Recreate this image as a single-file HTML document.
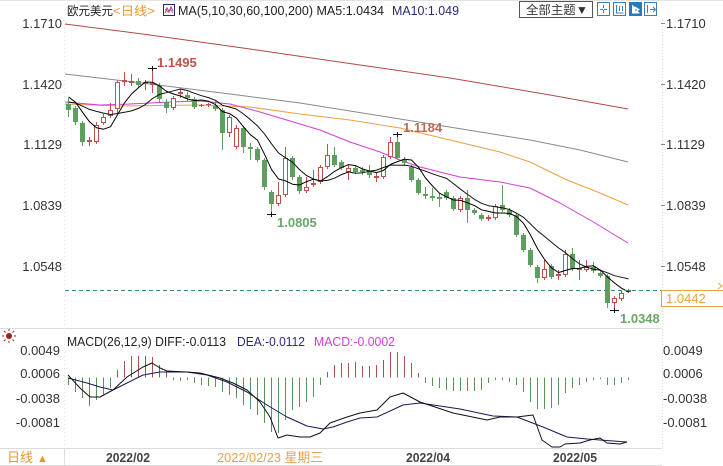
<!DOCTYPE html>
<html><head><meta charset="utf-8">
<style>
html,body{margin:0;padding:0;background:#fff;}
body{width:723px;height:466px;overflow:hidden;position:relative;font-family:"Liberation Sans","Noto Sans CJK SC",sans-serif;}
svg{position:absolute;left:0;top:0;}
</style></head><body>
<svg id="c" width="723" height="466" viewBox="0 0 723 466" xmlns="http://www.w3.org/2000/svg" font-family="Liberation Sans, Noto Sans CJK SC, sans-serif">
<rect x="0" y="0" width="723" height="466" fill="#fff"/>
<!-- frame lines -->
<line x1="0" y1="0.5" x2="723" y2="0.5" stroke="#e4e4e4"/>
<line x1="0" y1="328.5" x2="662" y2="328.5" stroke="#dcdcdc"/>
<line x1="0" y1="448.5" x2="662" y2="448.5" stroke="#dcdcdc"/>
<line x1="0" y1="465.5" x2="662" y2="465.5" stroke="#dcdcdc"/>
<line x1="64.5" y1="20" x2="64.5" y2="448" stroke="#e6e6e6" stroke-dasharray="1,3"/>
<line x1="64.5" y1="449" x2="64.5" y2="466" stroke="#dcdcdc"/>
<line x1="662.5" y1="20" x2="662.5" y2="448" stroke="#d8d8d8" stroke-dasharray="1,2"/>

<!-- title -->
<text x="67" y="15" font-size="12" fill="#222" textLength="46" lengthAdjust="spacingAndGlyphs">欧元美元</text>
<text x="113" y="15" font-size="12" fill="#e8962e" textLength="42" lengthAdjust="spacingAndGlyphs">&lt;日线&gt;</text>
<rect x="163.5" y="4.5" width="11" height="11" fill="#fff" stroke="#2a2a70"/>
<polyline points="165,13 167,8 169,12 171,7 173,11" fill="none" stroke="#a040a0" stroke-width="1"/>
<polyline points="165,9 168,12 170,9 173,13" fill="none" stroke="#c05050" stroke-width="0.8"/>
<text x="178" y="15" font-size="12.5" fill="#222" textLength="206" lengthAdjust="spacingAndGlyphs">MA(5,10,30,60,100,200) MA5:1.0434</text>
<text x="392" y="15" font-size="12.5" fill="#2a2a7a" textLength="67" lengthAdjust="spacingAndGlyphs">MA10:1.049</text>

<!-- top right buttons -->
<rect x="519.5" y="1.5" width="73" height="16" fill="#fff" stroke="#555"/>
<text x="526" y="14" font-size="12" fill="#333" textLength="62" lengthAdjust="spacingAndGlyphs">全部主题▼</text>
<rect x="597.5" y="2.5" width="12" height="13" fill="#fff" stroke="#3a80c0"/>
<path d="M603.5 5v3M603.5 10v3M600 9.5h3M604 9.5h3" stroke="#3a80c0"/>
<rect x="613.5" y="2.5" width="12" height="13" fill="#fff" stroke="#3a80c0"/>
<path d="M616.5 5v8h7M619.5 6v5M622.5 6v5" stroke="#3a80c0" fill="none"/>
<rect x="629.5" y="2.5" width="12" height="13" fill="#2a7ab8" stroke="#2a7ab8"/>
<path d="M632.5 5v8h7M635 7l4 2.5-4 2.5z" stroke="#fff" fill="#fff"/>
<rect x="644.5" y="2.5" width="12" height="13" fill="#fff" stroke="#3a80c0"/>
<path d="M647.5 5v8M650 9.5h5M653 7l2.5 2.5-2.5 2.5" stroke="#3a80c0" fill="none"/>

<!-- left axis labels main -->
<g font-size="13" fill="#333" text-anchor="end">
<text x="62" y="28">1.1710</text>
<text x="62" y="89">1.1420</text>
<text x="62" y="149">1.1129</text>
<text x="62" y="210">1.0839</text>
<text x="62" y="271">1.0548</text>
</g>
<g font-size="13" fill="#333">
<text x="666" y="28">1.1710</text>
<text x="666" y="89">1.1420</text>
<text x="666" y="149">1.1129</text>
<text x="666" y="210">1.0839</text>
<text x="666" y="271">1.0548</text>
</g>
<g stroke="#888">
<line x1="661" y1="23.5" x2="665" y2="23.5"/>
<line x1="661" y1="84.5" x2="665" y2="84.5"/>
<line x1="661" y1="144.5" x2="665" y2="144.5"/>
<line x1="661" y1="205.5" x2="665" y2="205.5"/>
<line x1="661" y1="266.5" x2="665" y2="266.5"/>
</g>

<!-- MACD axis labels -->
<g font-size="13" fill="#333" text-anchor="end">
<text x="60" y="355">0.0049</text>
<text x="60" y="378">0.0006</text>
<text x="60" y="403">-0.0038</text>
<text x="60" y="427">-0.0081</text>
</g>
<g font-size="13" fill="#333">
<text x="663" y="355">0.0049</text>
<text x="663" y="378">0.0006</text>
<text x="663" y="403">-0.0038</text>
<text x="663" y="427">-0.0081</text>
</g>

<!-- MACD title -->
<circle cx="9" cy="336" r="3" fill="#a02020"/>
<g stroke="#a02020" stroke-width="1">
<line x1="9" y1="329" x2="9" y2="331"/><line x1="9" y1="341" x2="9" y2="343"/>
<line x1="2" y1="336" x2="4" y2="336"/><line x1="14" y1="336" x2="16" y2="336"/>
<line x1="4" y1="331" x2="5.5" y2="332.5"/><line x1="12.5" y1="339.5" x2="14" y2="341"/>
<line x1="14" y1="331" x2="12.5" y2="332.5"/><line x1="4" y1="341" x2="5.5" y2="339.5"/>
</g>
<text x="67" y="346" font-size="12.5" fill="#222" textLength="159" lengthAdjust="spacingAndGlyphs">MACD(26,12,9) DIFF:-0.0113</text>
<text x="237" y="346" font-size="12.5" fill="#2a2a7a" textLength="68" lengthAdjust="spacingAndGlyphs">DEA:-0.0112</text>
<text x="314" y="346" font-size="12.5" fill="#d040d0" textLength="81" lengthAdjust="spacingAndGlyphs">MACD:-0.0002</text>

<!-- bottom axis -->
<text x="7" y="462" font-size="13" fill="#e8962e" textLength="26" lengthAdjust="spacingAndGlyphs">日线</text>
<text x="37" y="462" font-size="11" fill="#e8962e">▲</text>
<text x="106" y="462" font-size="13" font-weight="bold" fill="#444" textLength="44" lengthAdjust="spacingAndGlyphs">2022/02</text>
<text x="217" y="462" font-size="13" fill="#e8a050" textLength="106" lengthAdjust="spacingAndGlyphs">2022/02/23 星期三</text>
<text x="406" y="462" font-size="13" font-weight="bold" fill="#444" textLength="44" lengthAdjust="spacingAndGlyphs">2022/04</text>
<text x="553" y="462" font-size="13" font-weight="bold" fill="#444" textLength="44" lengthAdjust="spacingAndGlyphs">2022/05</text>

<g id="dyn"></g>

<!-- current price -->
<line x1="65" y1="290.5" x2="661" y2="290.5" stroke="#3a8a9a" stroke-dasharray="4,3"/>
<rect x="661.5" y="290.5" width="62" height="16" fill="#fff" stroke="#e8a040"/>
<text x="666" y="303" font-size="13" fill="#e8a040">1.0442</text>
<path d="M718 283l4 3-4 3" stroke="#e8a040" fill="none"/>

<!-- annotations -->
<g font-size="13" font-weight="bold">
<text x="157" y="67" fill="#c0504d">1.1495</text>
<text x="403" y="132" fill="#b86a5a">1.1184</text>
<text x="277" y="227" fill="#6aa56a">1.0805</text>
<text x="620" y="323" fill="#6aa56a">1.0348</text>
</g>
</svg>
<script>
(function(){
var NS='http://www.w3.org/2000/svg';
var g=document.getElementById('dyn');
function el(t,a){var e=document.createElementNS(NS,t);for(var k in a)e.setAttribute(k,a[k]);g.appendChild(e);return e;}
function poly(pts,color,w){el('polyline',{points:pts.map(function(p){return p[0]+','+p[1];}).join(' '),fill:'none',stroke:color,'stroke-width':w||1,'stroke-linejoin':'round'});}
// long MAs
poly([[65,24],[150,35],[250,49],[360,65],[450,78],[550,95],[628,109]],'#b04a48');
poly([[65,74],[150,84],[230,94],[300,103],[400,119],[530,140],[580,150],[628,162]],'#8a8a8a');
poly([[65,104],[120,106],[200,105],[250,107],[300,114],[350,120],[400,128],[450,140],[500,152],[530,162],[567,180],[600,193],[628,205]],'#f0a040');
poly([[65,102],[100,105],[130,104],[170,102],[200,101],[230,104],[260,112],[290,121],[320,130],[350,142],[380,152],[400,160],[420,167],[460,177],[500,182],[530,188],[560,203],[590,220],[628,243]],'#d040d0');
var C=[
['g',104,110,98,117],['g',108,122,106,125],['g',123,142,121,146],['r',140,142,137,146],['r',125,142,122,144],
['r',117,123,114,125],['r',110,116,103,118],['r',82,109,80,113],['r',80,82,72,86],['r',81,83,74,86],
['g',81,85,78,87],['r',82,84,80,90],['r',83,85,68,93],['g',85,99,83,102],['g',102,108,99,113],
['r',98,108,96,110],['r',92,94,89,98],['g',95,98,92,101],['g',99,107,97,109],['r',105,106,104,107],
['r',104,105,103,107],['g',106,109,101,111],['g',110,133,108,150],['r',117,133,115,137],['r',128,147,125,149],
['g',128,147,126,153],['g',147,149,143,160],['g',149,160,147,162],['g',160,187,158,190],['g',192,204,190,214],
['r',195,204,182,206],['r',158,195,147,197],['g',158,177,156,180],['g',177,191,175,194],['r',187,191,177,193],
['r',183,185,170,187],['r',167,182,165,184],['r',155,167,144,169],['g',155,165,147,167],['g',162,168,160,170],
['r',168,172,165,180],['g',168,172,166,174],['g',170,172,167,175],['g',172,175,165,178],['r',176,178,173,182],
['r',157,177,155,179],['r',142,157,137,159],['g',142,158,134,160],['g',159,163,157,165],['g',167,180,165,182],
['g',180,193,178,195],['g',194,196,187,199],['g',196,198,188,201],['g',197,199,193,207],['g',192,198,190,200],
['g',198,209,196,211],['r',198,210,196,212],['g',198,210,190,223],['g',210,213,208,215],['g',215,219,213,221],
['r',217,219,215,221],['r',206,218,204,220],['g',205,210,185,212],['g',210,215,208,217],['g',215,235,213,237],
['g',235,250,233,252],['g',250,265,248,267],['g',267,278,265,283],['r',269,278,260,280],['g',266,277,264,279],
['r',274,276,270,280],['r',254,275,250,277],['g',254,269,248,271],['r',268,270,260,280],['r',267,270,260,272],
['g',267,271,262,273],['g',273,276,270,278],['g',276,303,274,308],['r',298,303,296,310],['r',293,299,291,301],
['r',290,292,289,293]];
var RED='#c0504d',GRN='#5e9e5e';
for(var i=0;i<C.length;i++){
 var c=C[i],cx=68+i*7,t=c[1],b=c[2],h=c[3],l=c[4];
 var col=c[0]=='r'?RED:GRN;
 if(b-t<1)b=t+1;
 el('line',{x1:cx+0.5,y1:h,x2:cx+0.5,y2:t,stroke:col});
 el('line',{x1:cx+0.5,y1:b,x2:cx+0.5,y2:l,stroke:col});
 if(c[0]=='r'){
  if(b-t<=2) el('rect',{x:cx-2,y:t,width:5,height:Math.max(1,b-t),fill:col});
  else el('rect',{x:cx-1.5,y:t+0.5,width:4,height:b-t-1,fill:'#fff',stroke:col});
 } else el('rect',{x:cx-2,y:t,width:5,height:b-t,fill:col});
}
// cross markers
[[152,68],[397,134],[271,214],[614,310]].forEach(function(p){el('line',{x1:p[0]-4,y1:p[1]+0.5,x2:p[0]+5,y2:p[1]+0.5,stroke:'#111'});el('line',{x1:p[0]+0.5,y1:p[1]-2,x2:p[0]+0.5,y2:p[1]+3,stroke:'#111'});});
// MA5 / MA10
var pre=[112,110,108,105,100,96,92,92,95];
var cl=pre.slice();
C.forEach(function(c){cl.push(c[0]=='r'?c[1]:c[2]);});
function ma(n){var pts=[];for(var i=0;i<C.length;i++){var k=i+pre.length,s=0;for(var j=0;j<n;j++)s+=cl[k-j];pts.push([68.5+i*7,(s/n).toFixed(1)]);}return pts;}
poly(ma(10),'#111',1);
poly(ma(5),'#000',1);
// MACD bars
var M=[385,392,398,406,400,395,388,370,361,356,356,356,357,365,372,380,381,380,383,385,386,387,392,395,398,405,409,415,423,432,433,420,410,407,402,397,385,372,365,363,363,362,366,366,365,360,352,352,356,363,373,383,386,388,390,391,391,391,391,390,383,380,380,382,385,392,402,409,409,408,405,393,388,385,382,380,379,385,385,383,380];
var Z=377.5;
for(var i=0;i<M.length;i++){var cx=68+i*7+0.5,v=M[i];var col=v<Z?'#a85050':'#5a905a';el('line',{x1:cx,y1:Z,x2:cx,y2:v,stroke:col});}
poly([[68,378],[87,383],[100,387],[113,390],[127,383],[143,375],[160,372],[187,372],[207,375],[227,382],[247,392],[267,405],[287,417],[307,426],[323,429],[333,427],[347,422],[360,418],[377,417],[403,405],[420,403],[460,409],[493,416],[517,417],[543,427],[567,437],[587,439],[600,440],[627,442]],'#1a1a5a');
poly([[68,375],[80,388],[90,397],[100,397],[113,390],[127,377],[143,367],[152,363],[160,368],[167,371],[187,372],[200,373],[220,378],[233,383],[247,390],[260,402],[270,417],[278,438],[287,435],[300,437],[310,437],[320,433],[330,423],[347,417],[360,413],[377,410],[390,397],[403,393],[420,402],[453,413],[487,420],[500,417],[517,417],[533,415],[542,440],[552,447],[560,447],[565,444],[580,443],[590,440],[600,438],[607,443],[620,444],[627,442]],'#111');
})();
</script>
</body></html>
